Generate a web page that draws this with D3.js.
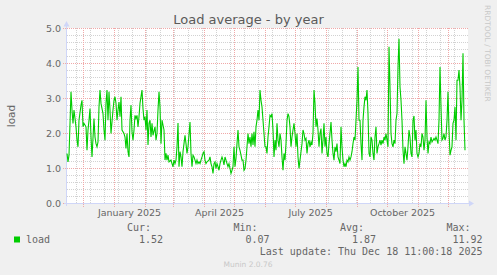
<!DOCTYPE html>
<html>
<head>
<meta charset="utf-8">
<script src="https://cdn.jsdelivr.net/npm/d3@7"></script>
<style>
  html, body { margin: 0; padding: 0; background: #f0f0f0; }
  svg { display: block; }
</style>
</head>
<body>
<svg id="chart" width="497" height="275"></svg>
<script>
// graph covers 400 days ending at the last update
const startTime = new Date(2024, 10, 13, 11, 0, 18);
const endTime = new Date(2025, 11, 18, 11, 0, 18);

const yMajor = [0, 1, 2, 3, 4, 5];
const yMinor = [0.2, 0.4, 0.6, 0.8, 1.2, 1.4, 1.6, 1.8, 2.2, 2.4, 2.6, 2.8,
                3.2, 3.4, 3.6, 3.8, 4.2, 4.4, 4.6, 4.8];
const xLabelMonths = [new Date(2025, 0, 1), new Date(2025, 3, 1),
                      new Date(2025, 6, 1), new Date(2025, 9, 1)];

// day number of each sample (day 1 = left edge of the graph)
const sampleDay = [
  2, 3, 4, 6, 7, 8, 9, 11, 12, 13, 14, 16, 17, 18, 19, 21, 22, 23, 24, 25,
  26, 27, 29, 30, 31, 32, 33, 34, 35, 36, 38, 39, 40, 41, 42, 43, 44, 45, 46, 48,
  49, 50,
  51, 52, 53, 54, 55, 56, 57, 59, 60, 61, 62, 63, 64, 65, 66, 67, 68, 69, 70, 71,
  72, 73, 74, 75, 77, 78, 79, 80, 81, 82, 83, 84, 85, 86, 87, 88, 90, 91, 92, 93,
  94, 95, 96, 97, 99, 100,
  101, 102, 103, 104, 106, 107, 108, 109, 110, 111, 112, 113, 114, 115, 116, 117,
  118, 119, 120, 121, 122, 123, 125, 126, 127, 128, 129, 130, 131, 132, 133, 134,
  135, 136, 137, 138, 139, 140, 141, 142, 144, 145, 146, 147, 148, 149, 150
].concat(d3.range(151, 401));

// load average
const loadValues = [
  // Nov - Dec 2024
  1.43, 1.19, 1.38, 3.19, 2.67, 2.29, 2.67, 2.19, 1.81, 1.62, 2.38, 2.81, 2.95, 2.19, 2.29, 2.19, 1.52, 2.10, 2.38, 2.71,
  1.90, 1.33, 2.43, 1.90, 1.71, 1.62, 1.76, 2.76, 3.24, 2.86, 2.57, 2.10, 1.81, 2.86, 3.24, 2.38, 3.19, 2.67, 2.00, 2.67,
  2.95, 3.05,
  // Jan - Feb 2025
  2.86, 2.38, 2.67, 2.90, 2.48, 3.05, 2.10, 2.00, 1.90, 1.57, 2.00, 1.48, 1.33, 2.38, 2.81, 2.05, 1.81, 2.10, 2.52, 2.43,
  2.52, 2.19, 2.48, 2.86, 3.24, 2.71, 2.38, 2.48, 2.10, 2.67, 1.67, 2.29, 2.38, 1.90, 2.29, 1.95, 2.19, 1.81, 2.00, 2.67,
  3.19, 2.76, 1.71, 2.38, 2.10, 1.24,
  // Feb - Apr
  1.43, 1.24, 1.38, 1.19, 1.24, 1.14, 1.05, 1.24, 1.14, 1.24, 1.62, 2.30, 1.05, 1.48, 1.33, 1.05, 1.48, 1.71, 1.95, 1.71,
  1.43, 1.62, 2.33, 1.43, 1.05, 1.38, 1.33, 1.24, 1.14, 1.24, 1.14, 1.19, 1.14, 1.24, 1.33, 1.43, 1.48, 1.24, 1.14, 1.19,
  1.24, 1.33, 1.14, 1.05, 0.86, 1.14, 1.19,
  // Apr - Jun
  1.00, 1.14, 1.05, 0.95, 1.14, 1.24, 1.33, 1.24, 1.10, 1.33, 1.24, 1.14, 1.05, 1.14, 1.00, 0.86, 0.95, 1.05, 1.62, 1.05,
  1.29, 1.71, 2.10, 1.62, 1.52, 1.38, 1.24, 1.24, 0.95, 1.00, 1.24, 1.62, 2.00, 1.71, 1.90, 1.62, 2.00, 1.67, 2.05, 1.62,
  2.19, 2.38, 2.67, 2.38, 3.24, 2.95, 2.76, 2.38, 2.00, 1.62,
  // Jun - Jul
  1.62, 1.43, 1.90, 2.19, 2.52, 2.48, 2.57, 2.10, 1.33, 1.81, 1.52, 2.29, 1.81, 1.62, 2.00, 1.81, 1.33, 0.95, 1.43, 1.24,
  1.71, 2.38, 2.57, 2.48, 2.19, 1.62, 1.90, 2.10, 2.29, 2.00, 1.62, 2.00, 1.33, 1.00, 1.24, 1.48, 1.71, 2.10, 2.00, 1.81,
  1.86, 1.43, 1.71, 1.81, 1.62, 1.76, 1.67, 2.00, 3.24, 2.86,
  // Jul - Sep
  2.19, 2.43, 2.10, 1.62, 2.00, 2.14, 1.43, 1.81, 2.29, 1.62, 1.90, 1.43, 1.33, 1.71, 2.00, 2.33, 1.81, 1.43, 1.24, 1.62,
  1.48, 1.71, 1.33, 1.24, 1.14, 2.19, 1.62, 1.24, 1.05, 1.14, 1.05, 1.24, 1.19, 1.33, 1.24, 1.33, 1.48, 1.71, 1.90, 1.81,
  2.38, 2.95, 3.90, 2.38, 2.38, 1.71, 1.24, 2.38, 2.76, 3.05,
  // Sep - Oct
  2.95, 3.24, 2.57, 1.43, 1.33, 1.90, 1.81, 1.43, 1.24, 1.90, 2.19, 1.43, 1.62, 1.71, 1.81, 1.67, 1.81, 1.71, 1.90, 1.81,
  2.00, 1.81, 1.62, 4.48, 3.33, 2.00, 1.71, 1.62, 1.81, 1.71, 2.38, 2.57, 3.90, 4.71, 3.33, 2.95, 2.38, 1.52, 1.14, 1.62,
  1.43, 1.24, 1.62, 2.10, 1.90, 1.43, 1.33, 2.38, 2.50, 1.80,
  // Oct - Dec
  2.10, 1.43, 1.33, 1.43, 1.71, 1.62, 2.00, 1.90, 1.52, 1.81, 2.95, 1.90, 1.43, 1.76, 1.71, 1.90, 1.76, 1.81, 1.86, 1.81,
  1.90, 1.81, 1.71, 2.38, 3.90, 2.76, 1.81, 1.86, 2.00, 1.81, 1.90, 2.38, 3.19, 2.10, 1.38, 1.52, 1.62, 2.29, 2.38, 2.76,
  1.81, 3.52, 3.52, 3.81, 3.33, 2.38, 2.95, 4.29, 2.38, 1.52
];

const legendHeads = ["Cur:", "Min:", "Avg:", "Max:"];
const legendValues = ["1.52", "0.07", "1.87", "11.92"];
const lastUpdate = "Last update: Thu Dec 18 11:00:18 2025";

const data = sampleDay.map((d, i) => ({
  date: d3.timeDay.offset(startTime, d - 1),
  value: loadValues[i]
}));

const svg = d3.select("#chart");
const W = 497, H = 275;
const plot = {left: 66, right: 466, top: 28.5, bottom: 203.5};
const fontColor = "#666666";
const axisColor = "#CFD6F8";
const minorColor = "#d2d2d2";
const majorColor = "#f0a8a8";

const x = d3.scaleTime().domain([startTime, endTime]).range([plot.left, plot.right]);
const y = d3.scaleLinear().domain([0, 5]).range([plot.bottom, plot.top]);
const px = v => Math.round(v - 0.5) + 0.5;

svg.append("rect").attr("width", W).attr("height", H).attr("fill", "#f0f0f0");
svg.append("rect")
  .attr("x", plot.left).attr("y", 28)
  .attr("width", plot.right - plot.left + 2).attr("height", 176)
  .attr("fill", "#ffffff");

// grid: dotted, one pixel on / one off
const grid = svg.append("g");
const minorX = d3.timeDay.range(new Date(2024, 10, 24), endTime, 14);
const majorX = d3.timeMonth.range(startTime, endTime);

grid.append("g").selectAll("line").data(yMinor).join("line")
  .attr("x1", 67).attr("x2", 468)
  .attr("y1", d => px(y(d))).attr("y2", d => px(y(d)))
  .attr("stroke", minorColor).attr("stroke-dasharray", "1,1");
grid.append("g").selectAll("line").data(minorX).join("line")
  .attr("x1", d => px(x(d))).attr("x2", d => px(x(d)))
  .attr("y1", 28).attr("y2", 204)
  .attr("stroke", minorColor).attr("stroke-dasharray", "1,1");
grid.append("g").selectAll("line").data(yMajor).join("line")
  .attr("x1", 63).attr("x2", 468)
  .attr("y1", d => px(y(d))).attr("y2", d => px(y(d)))
  .attr("stroke", majorColor).attr("stroke-dasharray", "1,1");
grid.append("g").selectAll("line").data(majorX).join("line")
  .attr("x1", d => px(x(d))).attr("x2", d => px(x(d)))
  .attr("y1", 28).attr("y2", 207)
  .attr("stroke", majorColor).attr("stroke-dasharray", "1,1");

// axes with arrows
svg.append("line")
  .attr("x1", 64).attr("x2", 470)
  .attr("y1", 203.5).attr("y2", 203.5)
  .attr("stroke", axisColor);
svg.append("line")
  .attr("x1", 66.5).attr("x2", 66.5)
  .attr("y1", 206).attr("y2", 24)
  .attr("stroke", axisColor);
svg.append("path").attr("d", "M469,200.5 L474,203.5 L469,206.5 Z").attr("fill", axisColor);
svg.append("path").attr("d", "M63.5,26.5 L66.5,21 L69.5,26.5 Z").attr("fill", axisColor);

// y tick labels
svg.append("g").selectAll("text").data(yMajor).join("text")
  .attr("x", 61).attr("y", d => y(d) + 3.2)
  .attr("text-anchor", "end")
  .attr("font-family", "DejaVu Sans").attr("font-size", "9.5px")
  .attr("fill", fontColor)
  .text(d => d3.format(".1f")(d));

// x labels centred in the middle of their month
svg.append("g").selectAll("text").data(xLabelMonths).join("text")
  .attr("x", d => x(d3.timeDay.offset(d, 15)))
  .attr("y", 216)
  .attr("text-anchor", "middle")
  .attr("font-family", "DejaVu Sans").attr("font-size", "9.5px")
  .attr("fill", fontColor)
  .text(d3.timeFormat("%B %Y"));

// series
const line = d3.line().x(d => x(d.date)).y(d => y(d.value));
svg.append("path").datum(data)
  .attr("d", line)
  .attr("fill", "none").attr("stroke", "#00cc00").attr("stroke-width", 1.1);

// titles
svg.append("text")
  .attr("x", 248.5).attr("y", 24)
  .attr("text-anchor", "middle")
  .attr("font-family", "DejaVu Sans").attr("font-size", "13px")
  .attr("fill", "#5a5a5a")
  .text("Load average - by year");

svg.append("text")
  .attr("transform", "translate(15,116) rotate(-90)")
  .attr("text-anchor", "middle")
  .attr("font-family", "DejaVu Sans").attr("font-size", "10.5px")
  .attr("fill", fontColor)
  .text("load");

svg.append("text")
  .attr("transform", "translate(485,5) rotate(90)")
  .attr("font-family", "DejaVu Sans").attr("font-size", "7.5px")
  .attr("fill", "#c8c8c8")
  .text("RRDTOOL / TOBI OETIKER");

// legend
const mono = "DejaVu Sans Mono";
svg.append("rect").attr("x", 14).attr("y", 236.5).attr("width", 6).attr("height", 6)
  .attr("fill", "#00cc00");
svg.append("text").attr("x", 26).attr("y", 243)
  .attr("font-family", mono).attr("font-size", "10px").attr("fill", fontColor)
  .text("load");

const colEnd = [163, 269.5, 376, 482.5];
svg.append("g").selectAll("text").data(legendHeads).join("text")
  .attr("x", (d, i) => colEnd[i] - 12).attr("y", 230.5)
  .attr("text-anchor", "end")
  .attr("font-family", mono).attr("font-size", "10px").attr("fill", fontColor)
  .text(d => d);
svg.append("g").selectAll("text").data(legendValues).join("text")
  .attr("x", (d, i) => colEnd[i]).attr("y", 243)
  .attr("text-anchor", "end")
  .attr("font-family", mono).attr("font-size", "10px").attr("fill", fontColor)
  .text(d => d);
svg.append("text").attr("x", 482.5).attr("y", 254.5)
  .attr("text-anchor", "end")
  .attr("font-family", mono).attr("font-size", "10px").attr("fill", fontColor)
  .text(lastUpdate);

svg.append("text")
  .attr("x", 248).attr("y", 266.5)
  .attr("text-anchor", "middle")
  .attr("font-family", "DejaVu Sans").attr("font-size", "7.5px")
  .attr("fill", "#c8c8c8")
  .text("Munin 2.0.76");
</script>
</body>
</html>
